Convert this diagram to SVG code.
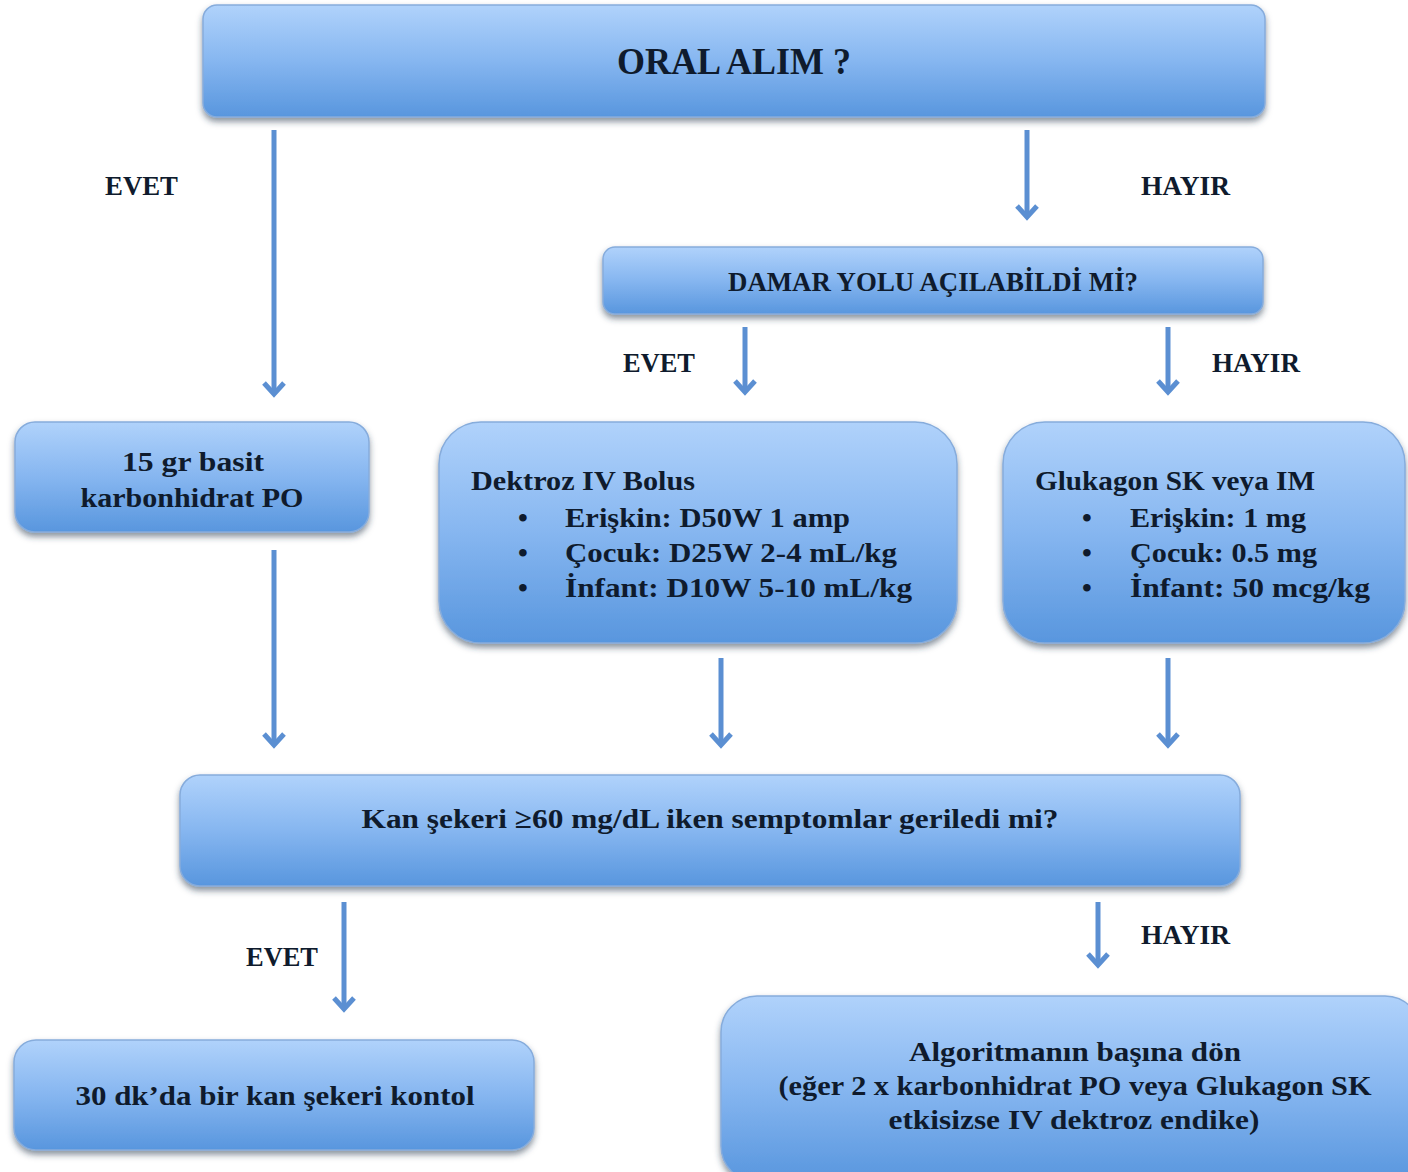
<svg xmlns="http://www.w3.org/2000/svg" width="1408" height="1172" viewBox="0 0 1408 1172">
<defs>
<linearGradient id="g" x1="0" y1="0" x2="0" y2="1">
<stop offset="0" stop-color="#b0d2fb"/>
<stop offset="0.5" stop-color="#86b6f0"/>
<stop offset="1" stop-color="#5896de"/>
</linearGradient>
<filter id="sh" x="-5%" y="-10%" width="110%" height="130%">
<feDropShadow dx="0" dy="4" stdDeviation="3" flood-color="#2a3a50" flood-opacity="0.55"/>
</filter>
<marker id="ah" markerUnits="userSpaceOnUse" markerWidth="34" markerHeight="34" viewBox="-17 -17 34 34" refX="0" refY="0" orient="auto">
<path d="M-11,-10 L0,0 L-11,10" fill="none" stroke="#5b8fd2" stroke-width="5"/>
</marker>
</defs>
<style>
.box{fill:url(#g);stroke:#86acdc;stroke-width:1.5;filter:url(#sh)}
.t{font-family:"Liberation Serif","Times New Roman",serif;font-weight:bold;fill:#0f1b2d;font-size:28px}
.c{text-anchor:middle}
.lbl{font-size:27px}
.arr{stroke:#5b8fd2;stroke-width:5;fill:none;marker-end:url(#ah)}
</style>
<rect width="1408" height="1172" fill="#ffffff"/>

<g id="connectors">
<line class="arr" x1="274" y1="130" x2="274" y2="394"/>
<line class="arr" x1="1027" y1="130" x2="1027" y2="217"/>
<line class="arr" x1="745" y1="327" x2="745" y2="392"/>
<line class="arr" x1="1168" y1="327" x2="1168" y2="392"/>
<line class="arr" x1="274" y1="550" x2="274" y2="745"/>
<line class="arr" x1="721" y1="658" x2="721" y2="745"/>
<line class="arr" x1="1168" y1="658" x2="1168" y2="745"/>
<line class="arr" x1="344" y1="902" x2="344" y2="1009"/>
<line class="arr" x1="1098" y1="902" x2="1098" y2="965"/>
<text class="t lbl" x="105" y="195" textLength="73" lengthAdjust="spacingAndGlyphs">EVET</text>
<text class="t lbl" x="1141" y="195" textLength="89" lengthAdjust="spacingAndGlyphs">HAYIR</text>
<text class="t lbl" x="623" y="372" textLength="72" lengthAdjust="spacingAndGlyphs">EVET</text>
<text class="t lbl" x="1212" y="372" textLength="88" lengthAdjust="spacingAndGlyphs">HAYIR</text>
<text class="t lbl" x="246" y="966" textLength="72" lengthAdjust="spacingAndGlyphs">EVET</text>
<text class="t lbl" x="1141" y="944" textLength="89" lengthAdjust="spacingAndGlyphs">HAYIR</text>
</g>

<g id="n-oral">
<rect class="box" x="203" y="5" width="1062" height="112" rx="14"/>
<text class="t c" x="734" y="74" style="font-size:37px" textLength="234" lengthAdjust="spacingAndGlyphs">ORAL ALIM ?</text>
</g>

<g id="n-damar">
<rect class="box" x="603" y="247" width="660" height="67" rx="12"/>
<text class="t c" x="933" y="291" textLength="410" lengthAdjust="spacingAndGlyphs">DAMAR YOLU AÇILABİLDİ Mİ?</text>
</g>

<g id="n-karb">
<rect class="box" x="15" y="422" width="354" height="110" rx="20"/>
<text class="t c" x="193" y="471" textLength="142" lengthAdjust="spacingAndGlyphs">15 gr basit</text>
<text class="t c" x="192" y="507" textLength="223" lengthAdjust="spacingAndGlyphs">karbonhidrat PO</text>
</g>

<g id="n-dektroz">
<rect class="box" x="439" y="422" width="518" height="221" rx="42"/>
<text class="t" x="471" y="490" textLength="224" lengthAdjust="spacingAndGlyphs">Dektroz IV Bolus</text>
<text class="t" x="518" y="527">•</text>
<text class="t" x="565" y="527" textLength="285" lengthAdjust="spacingAndGlyphs">Erişkin: D50W 1 amp</text>
<text class="t" x="518" y="562">•</text>
<text class="t" x="565" y="562" textLength="332" lengthAdjust="spacingAndGlyphs">Çocuk: D25W 2-4 mL/kg</text>
<text class="t" x="518" y="597">•</text>
<text class="t" x="565" y="597" textLength="347" lengthAdjust="spacingAndGlyphs">İnfant: D10W 5-10 mL/kg</text>
</g>

<g id="n-glukagon">
<rect class="box" x="1003" y="422" width="402" height="221" rx="42"/>
<text class="t" x="1035" y="490" textLength="280" lengthAdjust="spacingAndGlyphs">Glukagon SK veya IM</text>
<text class="t" x="1082" y="527">•</text>
<text class="t" x="1130" y="527" textLength="176" lengthAdjust="spacingAndGlyphs">Erişkin: 1 mg</text>
<text class="t" x="1082" y="562">•</text>
<text class="t" x="1130" y="562" textLength="187" lengthAdjust="spacingAndGlyphs">Çocuk: 0.5 mg</text>
<text class="t" x="1082" y="597">•</text>
<text class="t" x="1130" y="597" textLength="240" lengthAdjust="spacingAndGlyphs">İnfant: 50 mcg/kg</text>
</g>

<g id="n-kan">
<rect class="box" x="180" y="775" width="1060" height="111" rx="20"/>
<text class="t c" x="710" y="828" textLength="697" lengthAdjust="spacingAndGlyphs">Kan şekeri ≥60 mg/dL iken semptomlar geriledi mi?</text>
</g>

<g id="n-kontrol">
<rect class="box" x="14" y="1040" width="520" height="110" rx="22"/>
<text class="t c" x="275" y="1105" textLength="399" lengthAdjust="spacingAndGlyphs">30 dk’da bir kan şekeri kontol</text>
</g>

<g id="n-algoritma">
<rect class="box" x="721" y="996" width="700" height="186" rx="36"/>
<text class="t c" x="1075" y="1061" textLength="332" lengthAdjust="spacingAndGlyphs">Algoritmanın başına dön</text>
<text class="t c" x="1075" y="1095" textLength="593" lengthAdjust="spacingAndGlyphs">(eğer 2 x karbonhidrat PO veya Glukagon SK</text>
<text class="t c" x="1074" y="1129" textLength="371" lengthAdjust="spacingAndGlyphs">etkisizse IV dektroz endike)</text>
</g>
</svg>
